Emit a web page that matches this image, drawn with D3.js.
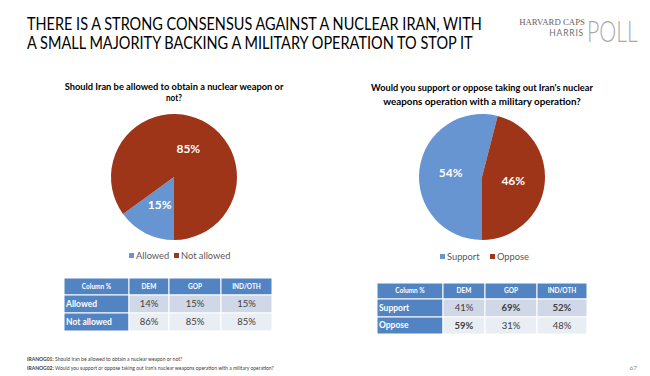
<!DOCTYPE html>
<html><head><meta charset="utf-8">
<script src="https://cdn.jsdelivr.net/npm/d3@7"></script>
<style>html,body{margin:0;padding:0;background:#fff;}svg{display:block;}</style>
</head><body>
<svg id="chart" width="650" height="376"></svg>
<script>
// ---- data ----
const titleLines = ["THERE IS A STRONG CONSENSUS AGAINST A NUCLEAR IRAN, WITH", "A SMALL MAJORITY BACKING A MILITARY OPERATION TO STOP IT"];
const pie1Title = ["Should Iran be allowed to obtain a nuclear weapon or", "not?"];
const pie1Labels = ["Allowed", "Not allowed"];
const pie1Values = [15, 85];
const pie2Title = ["Would you support or oppose taking out Iran's nuclear", "weapons operation with a military operation?"];
const pie2Labels = ["Support", "Oppose"];
const pie2Values = [54, 46];
const tableColumns = ["Column %", "DEM", "GOP", "IND/OTH"];
const table1Rows = ["Allowed", "Not allowed"];
const table1Values = [[14, 15, 15], [86, 85, 85]];
const table1Bold = [[false, false, false], [false, false, false]];
const table2Rows = ["Support", "Oppose"];
const table2Values = [[41, 69, 52], [59, 31, 48]];
const table2Bold = [[false, true, true], [true, false, false]];
const footnotes = [["IRANOG01:", " Should Iran be allowed to obtain a nuclear weapon or not?"],
                   ["IRANOG02:", " Would you support or oppose taking out Iran's nuclear weapons operation with a military operation?"]];
const pageNumber = "67";

// ---- drawing ----
const FONT = "Lato, 'Open Sans', sans-serif";
const BLUE = "#6795d2", RED = "#9e3519";
const svg = d3.select("#chart");
svg.append("rect").attr("width", 650).attr("height", 376).attr("fill", "#fff");

// text squeezed horizontally to a target width with a transform
function fitText(parent, str, x, y, width, anchor, attrs) {
  const g = parent.append("g");
  const t = g.append("text").attr("text-anchor", anchor).text(str);
  Object.entries(attrs).forEach(([k, v]) => t.attr(k, v));
  const natural = t.node().getComputedTextLength();
  const k = Math.min(1.15, width / natural);
  g.attr("transform", `translate(${x},${y}) scale(${k},1)`);
  return t;
}

// main title
titleLines.forEach((d, i) => fitText(svg, d, 27, 29.5 + i * 19.8, i === 0 ? 455 : 446, "start",
  {"font-family": FONT, "font-size": 16.5, "fill": "#000"}));

// logo
const logo = svg.append("g");
logo.append("text").attr("x", 585).attr("y", 24.5).attr("text-anchor", "end")
  .attr("font-family", "'Liberation Serif', 'DejaVu Serif', serif").attr("font-size", 8.8)
  .attr("fill", "#6e5c5c").text("HARVARD CAPS");
logo.append("text").attr("x", 584).attr("y", 35.5).attr("text-anchor", "end")
  .attr("font-family", FONT).attr("font-size", 8.5).attr("fill", "#6e6e6e")
  .attr("letter-spacing", 0.8).text("HARRIS");
fitText(logo, "POLL", 587, 42, 51, "start",
  {"font-family": FONT, "font-weight": 300, "font-size": 29, "fill": "#a9a9a9"});

function drawPie(cx, cy, r, titleLines, titleY, titleGap, titleWidths, labels, values, legendXs, legendY) {
  const g = svg.append("g");
  titleLines.forEach((d, i) => fitText(g, d, cx, titleY + i * titleGap, titleWidths[i], "middle",
    {"font-family": FONT, "font-weight": 700, "font-size": 9.5, "fill": "#000"}));
  const color = d3.scaleOrdinal().domain(labels).range([BLUE, RED]);
  const pie = d3.pie().sort(null).startAngle(Math.PI).endAngle(3 * Math.PI);
  const arcs = pie(values);
  const arc = d3.arc().innerRadius(0).outerRadius(r);
  const pg = g.append("g").attr("transform", `translate(${cx},${cy})`);
  pg.selectAll("path").data(arcs).join("path")
    .attr("d", arc).attr("fill", (d, i) => color(labels[i]));
  pg.selectAll("text").data(arcs).join("text")
    .attr("transform", d => `translate(${arc.centroid(d)})`)
    .attr("text-anchor", "middle").attr("dy", "0.36em")
    .attr("font-family", FONT).attr("font-weight", 700).attr("font-size", 12).attr("fill", "#fff")
    .text(d => d.data + "%");
  const lg = g.append("g");
  labels.forEach((l, i) => {
    lg.append("rect").attr("x", legendXs[i]).attr("y", legendY - 3).attr("width", 5).attr("height", 5).attr("fill", color(l));
    lg.append("text").attr("x", legendXs[i] + 7).attr("y", legendY + 3)
      .attr("font-family", FONT).attr("font-size", 9.3).attr("fill", "#595959").text(l);
  });
}
drawPie(174, 177, 63, pie1Title, 90, 11, [219, 16], pie1Labels, pie1Values, [129, 174], 256);
drawPie(482, 177, 63, pie2Title, 91, 14, [222, 198], pie2Labels, pie2Values, [440, 490], 257);

function drawTable(x0, colEdges, rowEdges, rows, values, bold) {
  const g = svg.append("g");
  const xs = colEdges.map(d => x0 + d);
  tableColumns.forEach((c, j) => {
    g.append("rect").attr("x", xs[j]).attr("y", rowEdges[0]).attr("width", xs[j + 1] - xs[j]).attr("height", rowEdges[1] - rowEdges[0])
      .attr("fill", "#5284c4").attr("stroke", "#fff").attr("stroke-width", 1);
    g.append("text").attr("x", (xs[j] + xs[j + 1]) / 2).attr("y", (rowEdges[0] + rowEdges[1]) / 2).attr("dy", "0.35em")
      .attr("text-anchor", "middle").attr("font-family", FONT).attr("font-weight", 700).attr("font-size", 6.5)
      .attr("fill", "#fff").text(c);
  });
  rows.forEach((r, i) => {
    const y0 = rowEdges[i + 1], y1 = rowEdges[i + 2];
    g.append("rect").attr("x", xs[0]).attr("y", y0).attr("width", xs[1] - xs[0]).attr("height", y1 - y0)
      .attr("fill", "#5284c4").attr("stroke", "#fff").attr("stroke-width", 1);
    g.append("text").attr("x", xs[0] + 2).attr("y", (y0 + y1) / 2).attr("dy", "0.35em")
      .attr("font-family", FONT).attr("font-weight", 700).attr("font-size", 8.5).attr("fill", "#fff").text(r);
    values[i].forEach((v, j) => {
      g.append("rect").attr("x", xs[j + 1]).attr("y", y0).attr("width", xs[j + 2] - xs[j + 1]).attr("height", y1 - y0)
        .attr("fill", i === 0 ? "#d0d8e8" : "#e9edf4").attr("stroke", "#fff").attr("stroke-width", 1);
      g.append("text").attr("x", (xs[j + 1] + xs[j + 2]) / 2).attr("y", (y0 + y1) / 2).attr("dy", "0.35em")
        .attr("text-anchor", "middle").attr("font-family", FONT).attr("font-weight", bold[i][j] ? 700 : 400)
        .attr("font-size", 9.5).attr("fill", "#404040").text(v + "%");
    });
  });
}
drawTable(64, [0, 65, 105, 157, 208], [278, 295, 313, 331], table1Rows, table1Values, table1Bold);
drawTable(377, [0, 66, 108, 160, 210], [283, 299, 317, 334], table2Rows, table2Values, table2Bold);

// footnotes
footnotes.forEach((f, i) => {
  const t = svg.append("text").attr("x", 27).attr("y", 361 + i * 8.5)
    .attr("font-family", FONT).attr("font-size", 5).attr("fill", "#404040");
  t.append("tspan").attr("font-weight", 700).text(f[0]);
  t.append("tspan").text(f[1]);
});
svg.append("text").attr("x", 637).attr("y", 370).attr("text-anchor", "end")
  .attr("font-family", FONT).attr("font-size", 6.5).attr("fill", "#7a90b0").text(pageNumber);
</script>
</body></html>
